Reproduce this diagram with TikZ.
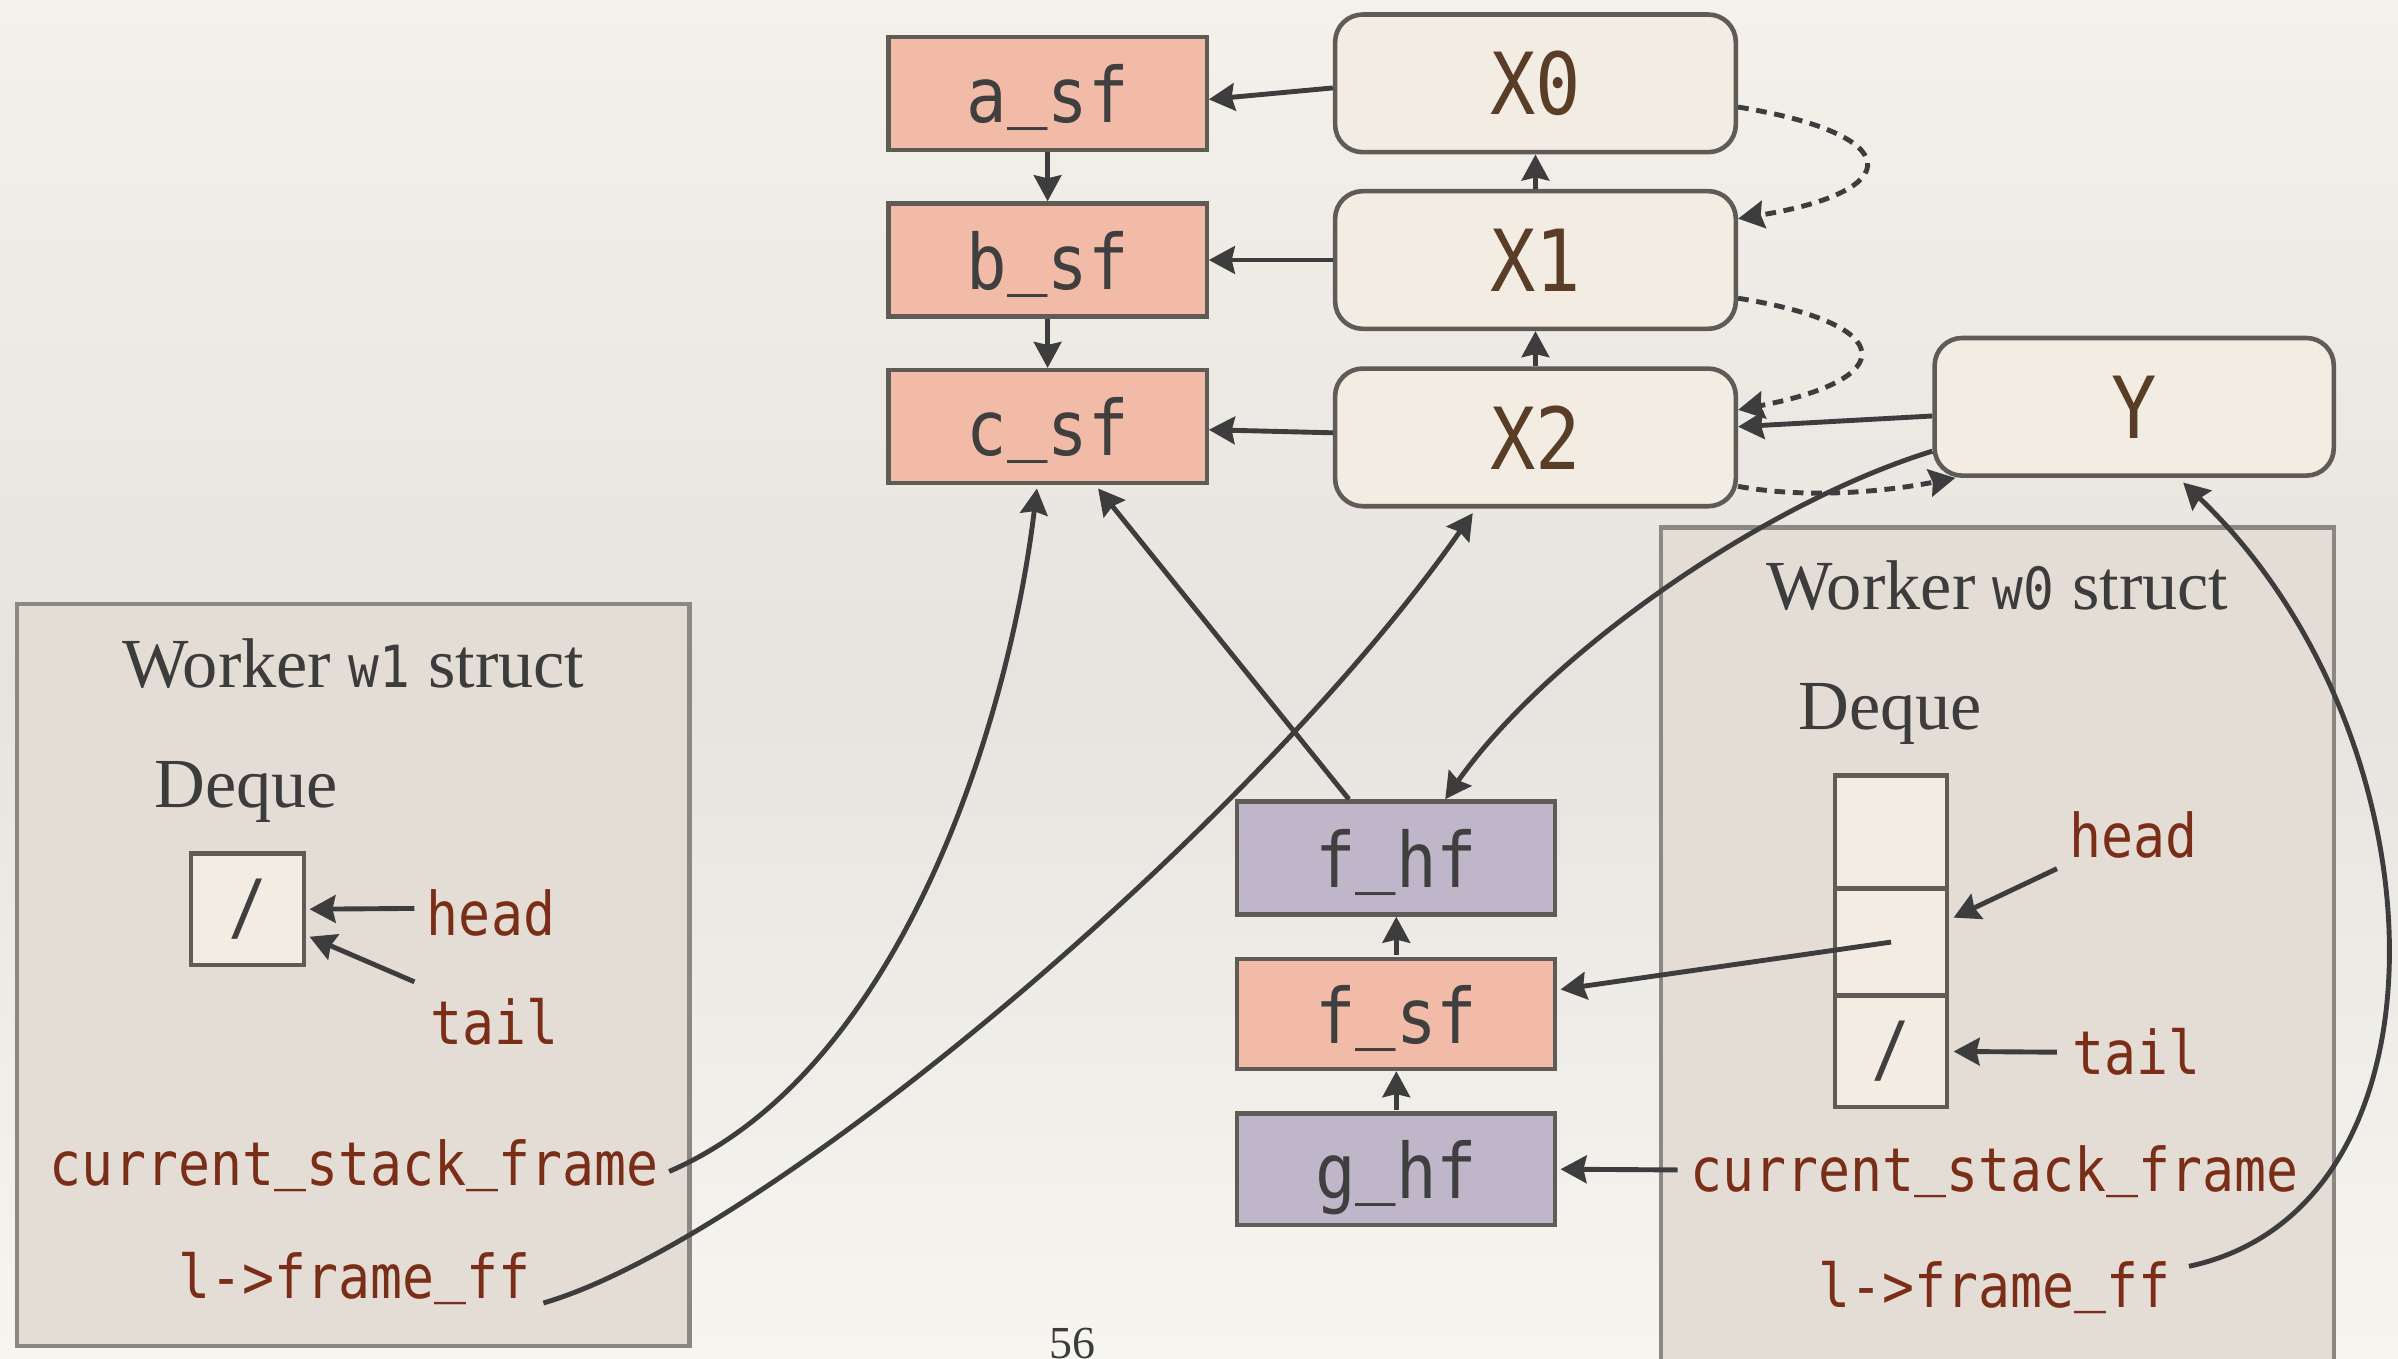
\documentclass[tikz,border=0pt]{standalone}
\usepackage{fontspec}
\usetikzlibrary{arrows.meta,calc}
\setmainfont{Liberation Serif}
\newfontfamily\codefont[FakeStretch=0.88]{DejaVu Sans Mono}
% underscore sitting on the baseline, as in the code font used for labels
\newcommand\usc{\raisebox{0.13em}{\_}}

\definecolor{paperTop}{HTML}{F4F1EB}
\definecolor{paperMid}{HTML}{E7E4DF}
\definecolor{paperBot}{HTML}{F7F5F0}
\definecolor{edge}{HTML}{5F5B57}
\definecolor{salmon}{HTML}{F2BBA7}
\definecolor{lilac}{HTML}{BFB6C9}
\definecolor{cream}{HTML}{F3ECE3}
\definecolor{workerfill}{HTML}{E4DDD6}
\definecolor{workeredge}{HTML}{8C8783}
\definecolor{nodetext}{HTML}{3F3F3F}
\definecolor{xtext}{HTML}{5A3D27}
\definecolor{codetext}{HTML}{7A2E17}
\definecolor{arrowc}{HTML}{3D3D3D}
\definecolor{titletext}{HTML}{3C3C3C}

\tikzset{
  frame/.style={draw=edge, line width=2.8pt, minimum width=208pt, minimum height=74pt,
    inner sep=0pt, text depth=0pt, font=\codefont\fontsize{50}{60}\selectfont, text=nodetext},
  sfbox/.style={frame, fill=salmon},
  hfbox/.style={frame, fill=lilac},
  xbox/.style={draw=edge, line width=3pt, fill=cream, rounded corners=18pt,
    minimum width=262pt, minimum height=90pt, inner sep=0pt,
    font=\codefont\fontsize{56}{66}\selectfont, text=xtext},
  worker/.style={draw=workeredge, line width=3pt, fill=workerfill, inner sep=0pt, minimum width=440pt},
  cell/.style={draw=edge, line width=2.8pt, fill=cream, minimum width=73pt, inner sep=0pt,
    font=\codefont\fontsize{48}{56}\selectfont, text=nodetext},
  serif/.style={font=\fontsize{46}{52}\selectfont, text=titletext, inner sep=0pt},
  code/.style={font=\codefont\fontsize{39.5}{46}\selectfont, text=codetext, inner sep=0pt},
  arr/.style={draw=arrowc, line width=3.2pt, -{Stealth[length=17pt,width=18pt,inset=2pt]}},
  darr/.style={arr, dash pattern=on 7pt off 5pt},
}

\begin{document}
\begin{tikzpicture}[x=1pt, y=-1pt]
  % paper
  \useasboundingbox (0,0) rectangle (1568,888);
  \shade[top color=paperTop, bottom color=paperBot, middle color=paperMid] (0,0) rectangle (1568,888);

  % worker structs
  \node[worker, minimum height=485pt] (w1) at (231,637.5) {};
  \node[worker, minimum height=560pt] (w0) at (1306,625) {};

  % stack frames of the spawned functions
  \node[sfbox] (asf) at (685,61) {a\usc sf};
  \node[sfbox] (bsf) at (685,170) {b\usc sf};
  \node[sfbox] (csf) at (685,279) {c\usc sf};

  \node[xbox] (X0) at (1004,54.5) {X0};
  \node[xbox] (X1) at (1004,170) {X1};
  \node[xbox] (X2) at (1004,286) {X2};
  \node[xbox, minimum width=261pt] (Y) at (1395.5,266) {Y};

  \node[hfbox] (fhf) at (913,561) {f\usc hf};
  \node[sfbox, minimum height=72pt] (fsf) at (913,663) {f\usc sf};
  \node[hfbox, minimum height=73pt] (ghf) at (913,764.5) {g\usc hf};

  % worker w1
  \node[serif] (w1title) at (231,434) {Worker {\codefont\fontsize{38}{42}\selectfont w1} struct};
  \node[serif] (dq1title) at (161,518) {Deque};
  \node[cell, minimum width=74pt, minimum height=73pt] (dq1) at (162,594.5) {/};
  \node[code, anchor=west] (head1) at (279,597) {head};
  \node[code, anchor=west] (tail1) at (281,668) {tail};
  \node[code] (csf1) at (231.5,762) {current\usc stack\usc frame};
  \node[code] (lff1) at (232,836) {l->frame\usc ff};

  % worker w0
  \node[serif] (w0title) at (1306,383) {Worker {\codefont\fontsize{38}{42}\selectfont w0} struct};
  \node[serif] (dq0title) at (1236,467) {Deque};
  \node[cell, minimum height=74pt] (c1) at (1236.5,544) {};
  \node[cell, minimum height=70pt] (c2) at (1236.5,616) {};
  \node[cell, minimum height=73pt] (c3) at (1236.5,687.5) {/};
  \node[code, anchor=west] (head0) at (1353,546) {head};
  \node[code, anchor=west] (tail0) at (1355,688) {tail};
  \node[code] (csf0) at (1304,766) {current\usc stack\usc frame};
  \node[code] (lff0) at (1304,842) {l->frame\usc ff};

  % page number
  \node[font=\fontsize{30}{36}\selectfont, text=titletext, anchor=north, inner sep=0pt] (pg) at (701,868) {56};

  % parent links between frames
  \draw[arr] (asf.south) -- (bsf.north);
  \draw[arr] (bsf.south) -- (csf.north);
  \draw[arr] (X1.north) -- (X0.south);
  \draw[arr] (X2.north) -- (X1.south);
  \draw[arr] ([yshift=-3pt]X0.west) -- ([yshift=-4pt]asf.east);
  \draw[arr] (X1.west) -- (bsf.east);
  \draw[arr] ([yshift=3pt]X2.west) -- ([yshift=-2pt]csf.east);
  \draw[arr] ([yshift=-6pt]Y.west) -- ([yshift=7pt]X2.east);
  \draw[arr] ([yshift=1pt]fsf.north) -- (fhf.south);
  \draw[arr] ([yshift=1pt]ghf.north) -- (fsf.south);

  % dashed sibling chain
  \draw[darr] ([yshift=-15.5pt]X0.east) .. controls (1247,88) and (1247,125) .. ([yshift=27pt]X1.east);
  \draw[darr] ([yshift=-25pt]X1.east) .. controls (1242,212) and (1242,248) .. ([yshift=18pt]X2.east);
  \draw[darr] ([yshift=-32pt]X2.east) .. controls (1180,326) and (1230,322) .. ([xshift=-117pt]Y.south);

  % pointers into the frames
  \draw[arr] ([yshift=-29pt]Y.west) .. controls (1150,330) and (1010,430) .. ([xshift=32pt]fhf.north);
  \draw[arr] ([xshift=-31pt]fhf.north) -- ([xshift=33pt,yshift=-2pt]csf.south);
  \draw[arr] ($(csf1.east)+(7,4)$) .. controls (590,700) and (660,470) .. ([xshift=-7pt,yshift=-2pt]csf.south);
  \draw[arr] ($(lff1.east)+(8,16)$) .. controls (500,810) and (820,540) .. ([xshift=-41pt,yshift=-3pt]X2.south);
  \draw[arr] (c2.center) -- ([yshift=16pt,xshift=2pt]fsf.east);
  \draw[arr] ($(csf0.west)+(-8,-1)$) -- ([xshift=2pt]ghf.east);
  \draw[arr] ($(lff0.east)+(12,-14)$) .. controls (1610,790) and (1600,480) .. ([xshift=32pt,yshift=-3pt]Y.south);

  % deque pointers
  \draw[arr] ($(head1.west)+(-8,-3)$) -- ([xshift=2pt]dq1.east);
  \draw[arr] ($(tail1.west)+(-10,-26)$) -- ([xshift=2pt,yshift=-18pt]dq1.east);
  \draw[arr] ($(head0.west)+(-8,22)$) -- ([xshift=3pt,yshift=16pt]c2.east);
  \draw[arr] ($(tail0.west)+(-10,0)$) -- ([xshift=3pt]c3.east);
\end{tikzpicture}
\end{document}
